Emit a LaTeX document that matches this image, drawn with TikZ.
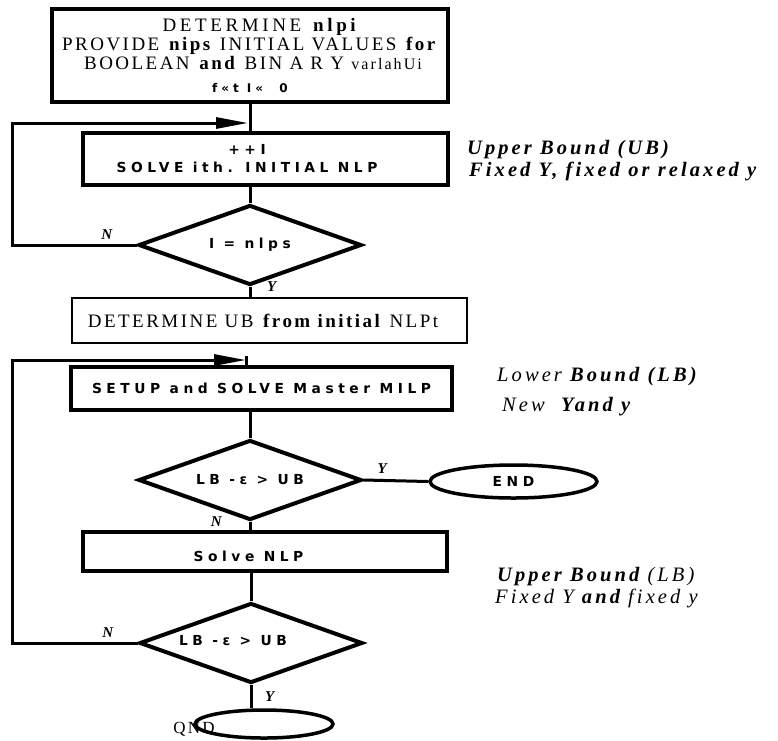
\documentclass[tikz,border=0pt]{standalone}
\usepackage{fontspec}
\setmainfont{Liberation Serif}[LetterSpace=13]
\newfontfamily\heavyfont{DejaVu Sans}[LetterSpace=33]
\usepackage{tikz}
\usetikzlibrary{arrows.meta,positioning,shapes.geometric}
\newcommand{\bigtxt}{\fontsize{19pt}{19pt}\selectfont}
\newcommand{\boxtxt}{\heavyfont\bfseries\fontsize{13.8pt}{16pt}\selectfont}

\begin{document}
\begin{tikzpicture}[x=1pt, y=-1pt,
	procBox/.style={draw, line width=3.5pt, inner sep=0pt, align=center},
	testNode/.style={diamond, aspect=2.8, draw, line width=4pt, inner sep=0pt, minimum width=223pt, minimum height=80pt, font=\boxtxt},
	endOval/.style={ellipse, draw, line width=3.5pt, inner sep=0pt},
	flowLine/.style={line width=3pt},
	loopLine/.style={line width=3pt, -{Triangle[length=32pt, width=11pt]}},
	noteText/.style={anchor=north west, align=left, inner sep=0pt, font=\fontsize{20.5pt}{22.5pt}\selectfont\itshape\addfontfeature{LetterSpace=15}},
	ynLabel/.style={inner sep=0pt, font=\fontsize{15pt}{15pt}\selectfont\bfseries\itshape}
	]
	\useasboundingbox (0,0) rectangle (778,740);
	\coordinate (rail) at (12,0);
	\coordinate (j1) at (248,123);
	\coordinate (j2) at (246,360);

	\node[procBox, minimum width=396pt, minimum height=93pt, font=\bigtxt] (init) at (250,55.5) {\hspace*{22pt}{\addfontfeature{LetterSpace=19}DETERMINE \textbf{nlpi}}\\PROVIDE \textbf{nips} INITIAL VALUES \textbf{for}\\\hspace*{6pt}BOOLEAN \textbf{and} BIN A R Y {\fontsize{16pt}{16pt}\selectfont varlahUi}\\[4pt]{\heavyfont\bfseries\fontsize{12pt}{12pt}\selectfont f«t I« \ 0}};
	\node[procBox, minimum width=365pt, minimum height=52pt, font=\boxtxt] (solveInit) at (265.5,159) {++I\hspace*{37pt}\\[2pt]SOLVE ith. INITIAL NLP\hspace*{37pt}};
	\node[testNode] (allDone) at (250,245) {I = nlps};
	\node[procBox, line width=2.5pt, minimum width=395pt, minimum height=45pt, font=\bigtxt] (findUB) at (269.5,320.5) {DETERMINE UB \textbf{from initial} NLPt\hspace*{13pt}};
	\node[procBox, minimum width=381pt, minimum height=43pt, font=\boxtxt] (master) at (261.5,388.5) {SETUP and SOLVE Master MILP};
	\node[testNode] (stopTest) at (250,480) {LB -ε > UB};
	\node[endOval, minimum width=167pt, minimum height=33pt, font=\boxtxt] (endNode) at (513.5,481.5) {END};
	\node[procBox, minimum width=364pt, minimum height=39pt, font=\boxtxt] (solveNLP) at (265,551.5) {\raisebox{-10pt}[0pt][0pt]{Solve NLP}\hspace*{33pt}};
	\node[testNode] (stopTest2) at (251,643) {\raisebox{6pt}{LB -ε > UB}\hspace*{36pt}};
	\node[endOval, minimum width=138pt, minimum height=28pt, label={[xshift=-70pt, yshift=-5pt, font=\fontsize{17pt}{17pt}\selectfont]center:QND}] (qndNode) at (264,724) {};

	\node[noteText] (ubNote) at (467,140) {\bfseries Upper Bound (UB)\\\hspace*{2pt}\bfseries Fixed Y, fixed or relaxed y};
	\node[noteText] (lbNote) at (497,367) {Lower \textbf{Bound (LB)}\\[8pt]\hspace*{5pt}New \ \textbf{Yand y}};
	\node[noteText] (ubNote2) at (495,567) {\hspace*{2pt}\textbf{Upper Bound} (LB)\\Fixed Y \textbf{and} fixed y};

	\draw[flowLine] (init.south) -- (init.south |- solveInit.north);
	\draw[flowLine] (allDone.north |- solveInit.south) -- (allDone.north);
	\draw[flowLine] (allDone.south) -- (allDone.south |- findUB.north);
	\draw[flowLine] ([yshift=4pt]j2) -- (j2 |- master.north);
	\draw[flowLine] (stopTest.north |- master.south) -- (stopTest.north);
	\draw[flowLine] (stopTest.east) -- (endNode.west);
	\draw[flowLine] (stopTest.south) -- (stopTest.south |- solveNLP.north);
	\draw[flowLine] (stopTest2.north |- solveNLP.south) -- (stopTest2.north);
	\draw[flowLine] (stopTest2.south) -- (qndNode.north -| stopTest2.south);
	\draw[loopLine] (allDone.west) -- (allDone.west -| rail) |- (j1);
	\draw[loopLine] (stopTest2.west) -- (stopTest2.west -| rail) |- (j2);

	\node[ynLabel, above left=5pt and 24pt of allDone.west] (n1) {N};
	\node[ynLabel, right=17pt of allDone.south] (y1) {Y};
	\node[ynLabel, above right=6pt and 14pt of stopTest.east] (y2) {Y};
	\node[ynLabel, left=28pt of stopTest.south] (n2) {N};
	\node[ynLabel, above left=5pt and 24pt of stopTest2.west] (n3) {N};
	\node[ynLabel, below right=6pt and 14pt of stopTest2.south] (y3) {Y};
\end{tikzpicture}
\end{document}
